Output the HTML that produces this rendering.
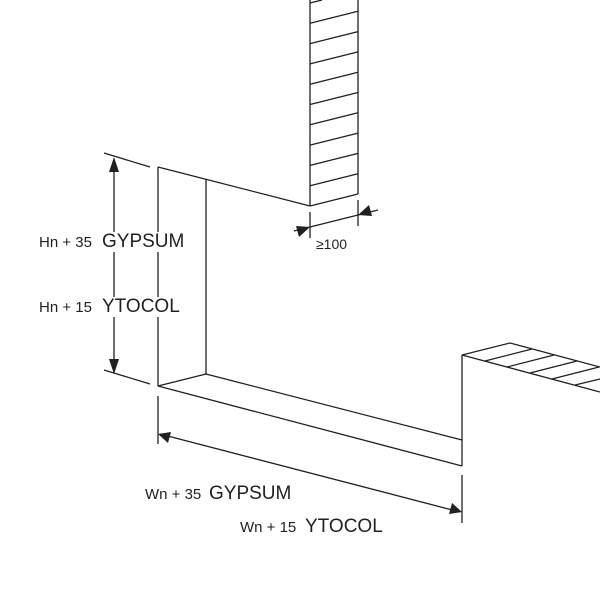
<!DOCTYPE html>
<html><head><style>
body{margin:0;background:#fff;}
svg{display:block;}
text{font-family:"Liberation Sans",sans-serif;fill:#231f20;}
</style></head><body>
<svg width="600" height="600" viewBox="0 0 600 600" xmlns="http://www.w3.org/2000/svg">
<g stroke="#231f20" stroke-width="1.3" fill="none">
<line x1="310" y1="0" x2="310" y2="206"/>
<line x1="358" y1="0" x2="358" y2="194"/>
<line x1="310" y1="206" x2="358" y2="194"/>
<line x1="310" y1="3" x2="322" y2="0"/>
<line x1="310" y1="23.3" x2="358" y2="11.3"/>
<line x1="310" y1="43.6" x2="358" y2="31.6"/>
<line x1="310" y1="63.9" x2="358" y2="51.9"/>
<line x1="310" y1="84.2" x2="358" y2="72.2"/>
<line x1="310" y1="104.5" x2="358" y2="92.5"/>
<line x1="310" y1="124.8" x2="358" y2="112.8"/>
<line x1="310" y1="145.1" x2="358" y2="133.1"/>
<line x1="310" y1="165.4" x2="358" y2="153.4"/>
<line x1="310" y1="185.7" x2="358" y2="173.7"/>
<line x1="158" y1="167" x2="310" y2="206"/>
<line x1="158" y1="167" x2="158" y2="386"/>
<line x1="206" y1="179" x2="206" y2="374"/>
<line x1="158" y1="386" x2="206" y2="374"/>
<line x1="158" y1="386" x2="462" y2="466"/>
<line x1="206" y1="374" x2="462" y2="440"/>
<line x1="462" y1="355" x2="462" y2="466"/>
<line x1="462" y1="355" x2="510" y2="343"/>
<line x1="510" y1="343" x2="600" y2="367"/>
<line x1="462" y1="355" x2="600" y2="392"/>
<line x1="485" y1="361" x2="532" y2="349"/>
<line x1="507" y1="367" x2="554" y2="355"/>
<line x1="530" y1="373" x2="577" y2="361"/>
<line x1="552" y1="379" x2="599" y2="367"/>
<line x1="575" y1="385" x2="600" y2="379"/>
<line x1="104" y1="153" x2="150" y2="167"/>
<line x1="104" y1="370" x2="150" y2="384"/>
<line x1="114" y1="160" x2="114" y2="372"/>
<line x1="310" y1="212" x2="310" y2="238"/>
<line x1="358" y1="200" x2="358" y2="226"/>
<line x1="294" y1="231" x2="378" y2="210"/>
<line x1="158" y1="396" x2="158" y2="444"/>
<line x1="462" y1="475" x2="462" y2="523"/>
<line x1="160" y1="434" x2="460" y2="512"/>
</g>
<g fill="#231f20">
<polygon points="114,157 109,172 119,172"/>
<polygon points="114,374 109,359 119,359"/>
<polygon points="310,227 296,226 299,237"/>
<polygon points="358,215 372,216 369,205"/>
<polygon points="158,434 171,432 168,443"/>
<polygon points="462,512 449,514 452,503"/>
</g>
<g>
<rect x="38" y="232" width="147" height="20" fill="#fff"/>
<rect x="38" y="297" width="145" height="20" fill="#fff"/>
<text x="39" y="247" font-size="15">Hn + 35</text>
<text x="102" y="247" font-size="19">GYPSUM</text>
<text x="39" y="312" font-size="15">Hn + 15</text>
<text x="102" y="312" font-size="19">YTOCOL</text>
<text x="316" y="249" font-size="14">≥100</text>
<text x="145" y="499" font-size="15">Wn + 35</text>
<text x="209" y="499" font-size="19">GYPSUM</text>
<text x="240" y="532" font-size="15">Wn + 15</text>
<text x="305" y="532" font-size="19">YTOCOL</text>
</g>
</svg>
</body></html>
